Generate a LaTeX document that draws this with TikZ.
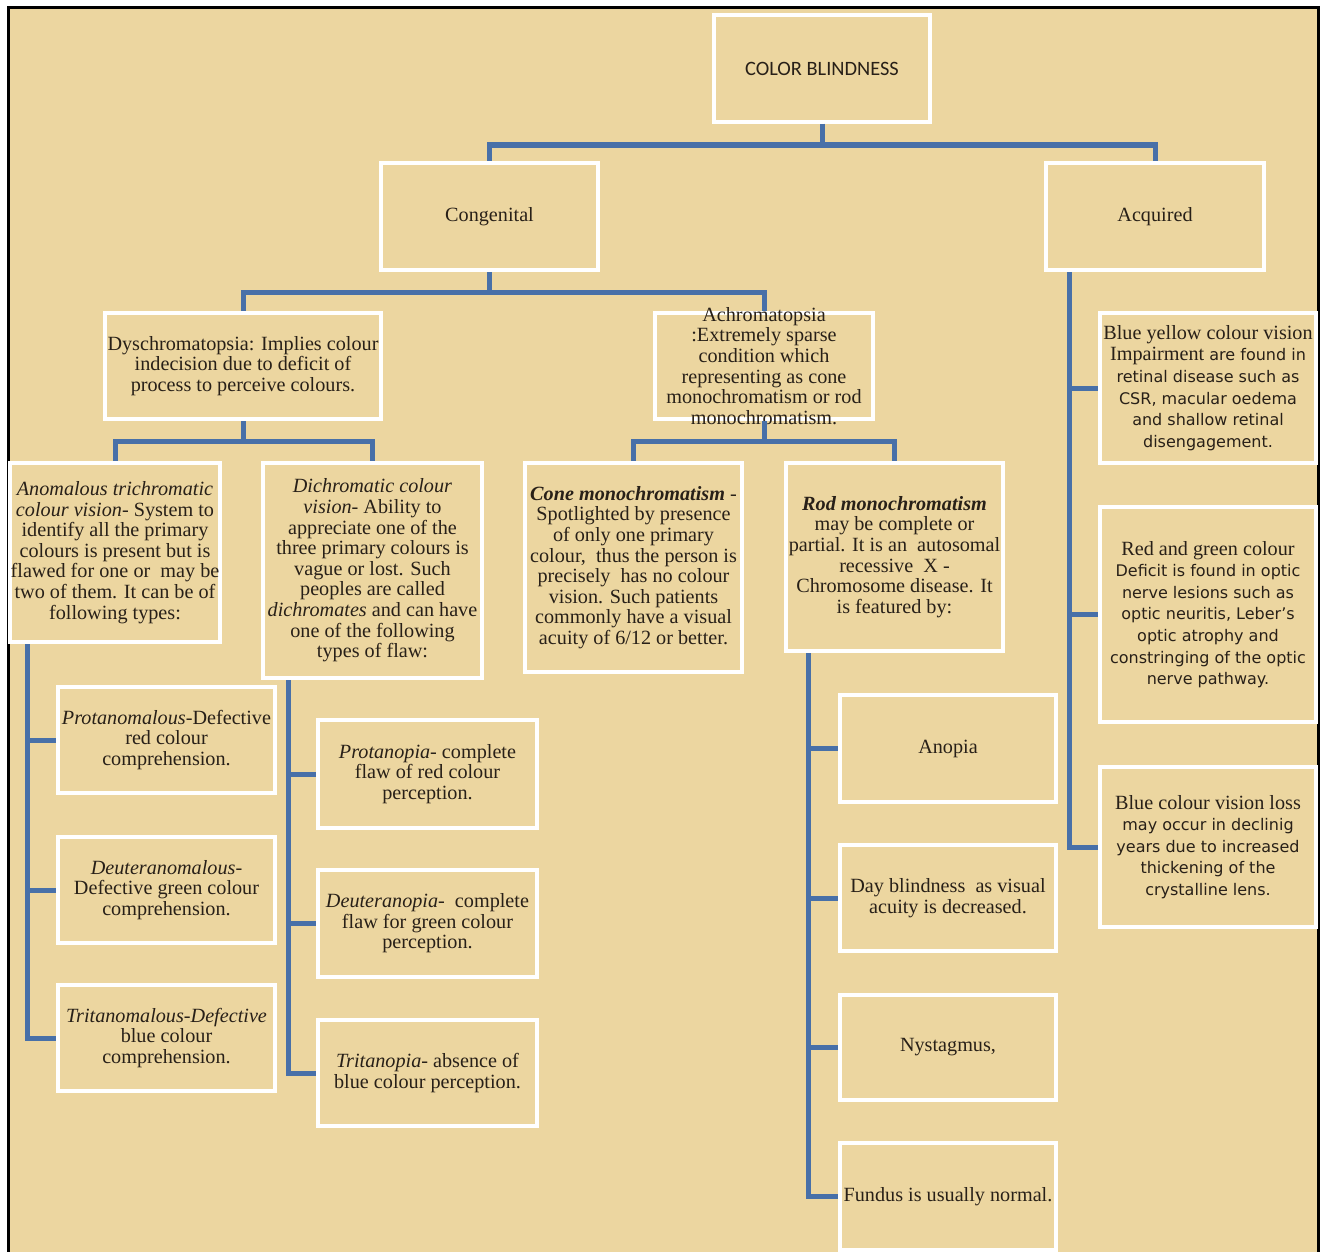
\documentclass[tikz,border=0pt]{standalone}
\usepackage{fontspec}
\setmainfont{Liberation Serif}
\newfontfamily\titlefont{Carlito}
\newfontfamily\verdfont{DejaVu Sans}
\definecolor{paper}{RGB}{236,214,160}
\definecolor{branch}{RGB}{72,112,168}
\definecolor{ink}{RGB}{40,32,24}
\newcommand\rmline[1]{{\rmfamily\fontsize{10.1}{10.8}\selectfont #1}}
\begin{document}
\begin{tikzpicture}[x=0.5pt, y=-0.5pt,
    box/.style 2 args={draw=white, line width=2pt, inner sep=0pt, align=center, text=ink,
      minimum width=#1*0.5pt, minimum height=#2*0.5pt, font=\fontsize{10.1}{10.3}\selectfont},
    sans/.style={font=\verdfont\fontsize{8}{10.8}\selectfont},
    link/.style={draw=branch, line width=2.5pt}]
    \useasboundingbox (0,0) rectangle (1322,1252);
    \fill[white] (0,0) rectangle (1322,1252);
    \fill[paper] (8,8) rectangle (1318,1252);
    \draw[line width=1.5pt] (8,1252) -- (8,8) -- (1318,8) -- (1318,1252);

    \node[box={216}{107}, font=\titlefont\fontsize{10.2}{12}\selectfont] (cb) at (822,68.5) {COLOR BLINDNESS};
    \node[box={217}{107}] (cong) at (489.5,216.5) {Congenital};
    \node[box={218}{107}] (acq) at (1155,216.5) {Acquired};

    \node[box={276}{106}] (dys) at (243,366) {Dyschromatopsia: Implies colour\\indecision due to deficit of\\process to perceive colours.};
    \node[box={218}{106}, label={[align=center, text=ink, font=\fontsize{10.1}{10.3}\selectfont]center:{Achromatopsia\\:Extremely sparse\\condition which\\representing as cone\\monochromatism or rod\\monochromatism.}}] (achro) at (764,366) {};

    \node[box={210}{179}] (anom) at (115,552.5) {\textit{Anomalous trichromatic}\\\textit{colour vision}- System to\\identify all the primary\\colours is present but is\\flawed for one or\ \ may be\\two of them. It can be of\\following types:};
    \node[box={219}{215}] (dich) at (372.5,570.5) {\textit{Dichromatic colour}\\\textit{vision}- Ability to\\appreciate one of the\\three primary colours is\\vague or lost. Such\\peoples are called\\\textit{dichromates} and can have\\one of the following\\types of flaw:};
    \node[box={217}{209}] (cone) at (633.5,567.5) {\textbf{\textit{Cone monochromatism}} -\\Spotlighted by presence\\of only one primary\\colour,\ \ thus the person is\\precisely\ \ has no colour\\vision. Such patients\\commonly have a visual\\acuity of 6/12 or better.};
    \node[box={217}{188}] (rod) at (894.5,557) {\textbf{\textit{Rod monochromatism}}\\may be complete or\\partial. It is an\ \ autosomal\\recessive\ \ X -\\Chromosome disease. It\\is featured by:};

    \node[box={217}{106}] (protm) at (166.5,740) {\textit{Protanomalous}-Defective\\red colour\\comprehension.};
    \node[box={217}{106}] (deutm) at (166.5,890) {\textit{Deuteranomalous}-\\Defective green colour\\comprehension.};
    \node[box={217}{106}] (tritm) at (166.5,1038) {\textit{Tritanomalous-Defective}\\blue colour\\comprehension.};

    \node[box={219}{108}] (prot) at (427.5,774) {\textit{Protanopia}- complete\\flaw of red colour\\perception.};
    \node[box={219}{107}] (deut) at (427.5,923.5) {\textit{Deuteranopia}-\ \ complete\\flaw for green colour\\perception.};
    \node[box={219}{106}] (trit) at (427.5,1073) {\textit{Tritanopia}- absence of\\blue colour perception.};

    \node[box={216}{107}] (anop) at (948,748.5) {Anopia};
    \node[box={216}{106}] (day) at (948,898) {Day blindness\ \ as visual\\acuity is decreased.};
    \node[box={216}{105}] (nyst) at (948,1047.5) {Nystagmus,};
    \node[box={216}{107}] (fund) at (948,1196.5) {Fundus is usually normal.};

    \node[box={216}{150}, sans] (by) at (1208,388) {\rmline{Blue yellow colour vision}\\\rmline{Impairment} are found in\\retinal disease such as\\CSR, macular oedema\\and shallow retinal\\disengagement.};
    \node[box={216}{215}, sans] (rg) at (1208,614.5) {\rmline{Red and green colour}\\Deficit is found in optic\\nerve lesions such as\\optic neuritis, Leber’s\\optic atrophy and\\constringing of the optic\\nerve pathway.};
    \node[box={216}{160}, sans] (bl) at (1208,847) {\rmline{Blue colour vision loss}\\may occur in declinig\\years due to increased\\thickening of the\\crystalline lens.};

    \foreach \a/\b in {cb/cong, cb/acq}
        \draw[link] (\a.south) -- ++(0,21) -| (\b.north);
    \foreach \a/\b in {cong/dys, cong/achro, dys/anom, dys/dich, achro/cone, achro/rod}
        \draw[link] (\a.south) -- ++(0,20) -| (\b.north);

    \coordinate (ta) at ([xshift=9.5pt]anom.south west);
    \coordinate (td) at ([xshift=13.5pt]dich.south west);
    \coordinate (tr) at ([xshift=12pt]rod.south west);
    \coordinate (tq) at ([xshift=12.5pt]acq.south west);
    \draw[link] (ta) |- (tritm.west);
    \draw[link] (td) |- (trit.west);
    \draw[link] (tr) |- (fund.west);
    \draw[link] (tq) |- (bl.west);
    \foreach \n in {protm,deutm} \draw[link] (\n.west -| ta) -- (\n.west);
    \foreach \n in {prot,deut} \draw[link] (\n.west -| td) -- (\n.west);
    \foreach \n in {anop,day,nyst} \draw[link] (\n.west -| tr) -- (\n.west);
    \foreach \n in {by,rg} \draw[link] (\n.west -| tq) -- (\n.west);
\end{tikzpicture}
\end{document}
